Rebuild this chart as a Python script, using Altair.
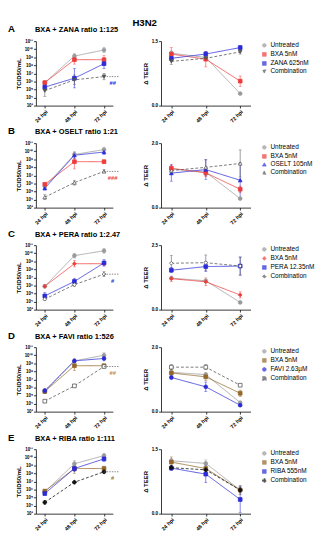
import json
import altair as alt
import pandas as pd

FONT = "Liberation Sans"

TIMES = ["24 hpi", "48 hpi", "72 hpi"]
LETTERS = ["A", "B", "C", "D", "E"]
PANEL_TITLES = [
    "BXA + ZANA ratio 1:125",
    "BXA + OSELT ratio 1:21",
    "BXA + PERA ratio 1:2.47",
    "BXA + FAVI ratio 1:526",
    "BXA + RIBA ratio 1:111",
]
DRUGS = ["ZANA 625nM", "OSELT 105nM", "PERA 12.35nM", "FAVI 2.63µM", "RIBA 555nM"]
SIG_MARKS = ["##", "###", "#", "##", "#"]
SIG_COLORS = ["#2a2ad8", "#ee3b3b", "#2a2ad8", "#c8873a", "#a0702a"]
TEER_MAX = [1.5, 2.0, 2.5, 2.0, 1.5]
TITER_TICK_EXP = [3, 4, 5, 6, 7, 8, 9, 10, 11]
TITER_TICK_LABELS = ["10³", "10⁴", "10⁵", "10⁶", "10⁷", "10⁸", "10⁹", "10¹⁰", "10¹¹"]
SUPER_TITLE = "H3N2"

# series order: Untreated, BXA 5nM, drug, Combination
# log10 TCID50/mL (mean) and SD in log units
A_titer = [[5.85, 9.15, 9.9], [5.85, 8.7, 8.7], [5.3, 6.4, 8.2], [4.85, 6.2, 6.6]]
A_titer_sd = [[0.2, 0.3, 0.35], [0.15, 0.55, 0.5], [0.3, 1.2, 0.6], [0.7, 0.6, 0.4]]
B_titer = [[5.6, 9.6, 10.2], [5.9, 8.7, 8.7], [5.4, 9.5, 9.9], [4.3, 6.1, 7.5]]
B_titer_sd = [[0.2, 0.3, 0.3], [0.1, 0.9, 0.2], [0.2, 0.4, 0.3], [0.3, 0.3, 0.2]]
C_titer = [[5.9, 9.7, 10.3], [5.9, 8.7, 8.7], [4.7, 6.5, 8.8], [4.3, 6.1, 7.4]]
C_titer_sd = [[0.2, 0.3, 0.3], [0.2, 0.4, 0.2], [0.4, 0.4, 0.4], [0.15, 0.2, 0.3]]
D_titer = [[5.5, 9.3, 10.0], [5.5, 8.7, 8.7], [5.6, 9.3, 9.6], [4.3, 6.2, 8.6]]
D_titer_sd = [[0.2, 0.3, 0.3], [0.2, 0.6, 0.2], [0.3, 0.2, 0.3], [0.1, 0.1, 0.1]]
E_titer = [[5.7, 9.2, 10.2], [5.8, 8.6, 8.6], [5.5, 8.6, 9.8], [4.4, 6.9, 8.2]]
E_titer_sd = [[0.2, 0.4, 0.3], [0.2, 0.6, 0.3], [0.2, 0.4, 0.3], [0.2, 0.1, 0.2]]

# delta TEER (mean) and SD
A_teer = [[1.22, 1.12, 0.28], [1.2, 1.08, 0.57], [1.1, 1.2, 1.35], [1.03, 1.1, 1.25]]
A_teer_sd = [[0.05, 0.05, 0.02], [0.15, 0.18, 0.12], [0.05, 0.06, 0.04], [0.07, 0.05, 0.05]]
B_teer = [[1.2, 1.1, 0.28], [1.22, 1.08, 0.57], [1.07, 1.18, 0.85], [1.15, 1.25, 1.37]]
B_teer_sd = [[0.05, 0.05, 0.03], [0.12, 0.12, 0.1], [0.25, 0.3, 0.55], [0.1, 0.25, 0.42]]
C_teer = [[1.22, 1.12, 0.28], [1.2, 1.08, 0.57], [1.53, 1.67, 1.69], [1.8, 1.82, 1.69]]
C_teer_sd = [[0.05, 0.05, 0.03], [0.1, 0.15, 0.12], [0.1, 0.2, 0.35], [0.3, 0.3, 0.35]]
D_teer = [[1.22, 1.15, 0.28], [1.2, 1.08, 0.57], [1.06, 0.77, 0.2], [1.38, 1.38, 0.82]]
D_teer_sd = [[0.05, 0.05, 0.03], [0.1, 0.12, 0.1], [0.05, 0.15, 0.04], [0.08, 0.08, 0.03]]
E_teer = [[1.23, 1.17, 0.55], [1.2, 1.05, 0.55], [1.06, 0.92, 0.33], [1.07, 1.02, 0.55]]
E_teer_sd = [[0.05, 0.08, 0.1], [0.12, 0.12, 0.1], [0.05, 0.2, 0.3], [0.05, 0.05, 0.05]]

TITERS = [A_titer, B_titer, C_titer, D_titer, E_titer]
TITER_SDS = [A_titer_sd, B_titer_sd, C_titer_sd, D_titer_sd, E_titer_sd]
TEERS = [A_teer, B_teer, C_teer, D_teer, E_teer]
TEER_SDS = [A_teer_sd, B_teer_sd, C_teer_sd, D_teer_sd, E_teer_sd]

# styles
RED = "#ee3b3b"
BROWN = "#93682a"
BLUE = "#2a2ad8"
GRAY = "#9a9a9a"
PANEL_COLORS = [
    [GRAY, RED, BLUE, "#555555"],
    [GRAY, RED, BLUE, "#555555"],
    [GRAY, RED, BLUE, "#555555"],
    [GRAY, BROWN, BLUE, "#555555"],
    [GRAY, BROWN, BLUE, "#111111"],
]
PANEL_SHAPES = [
    ["circle", "square", "square", "triangle-down"],
    ["circle", "square", "triangle-up", "triangle-up"],
    ["circle", "diamond", "square", "diamond"],
    ["circle", "square", "circle", "square"],
    ["circle", "square", "square", "cross"],
]
PANEL_FILLS = [
    [GRAY, RED, BLUE, "#555555"],
    [GRAY, RED, BLUE, "white"],
    [GRAY, RED, BLUE, "white"],
    [GRAY, BROWN, BLUE, "white"],
    [GRAY, BROWN, BLUE, "#111111"],
]
DASHES = [[1, 0], [1, 0], [1, 0], [3, 2]]

W1, W2, H = 80, 93, 67
LAB_LABELS = dict(labelFont=FONT, labelFontWeight="bold", labelColor="black")


def make_df(vals, sds, labels, log=False):
    rows = []
    for s, lab in enumerate(labels):
        for t, tm in enumerate(TIMES):
            v, e = vals[s][t], sds[s][t]
            if log:
                rows.append(dict(time=tm, series=lab, order=s, y=10 ** v,
                                 lo=10 ** (v - e), hi=10 ** (v + e)))
            else:
                rows.append(dict(time=tm, series=lab, order=s, y=v,
                                 lo=max(v - e, 0.0), hi=v + e))
    return pd.DataFrame(rows)


def panel(df, labels, i, yscale, yaxis, legend, extra_layers):
    xenc = alt.X("time:N", scale=alt.Scale(type="point", domain=TIMES, padding=0.3),
                 axis=alt.Axis(title=None, labelAngle=-45, labelFontSize=5.5,
                               labelPadding=1, **LAB_LABELS))
    cscale = alt.Scale(domain=labels, range=PANEL_COLORS[i])
    if legend is None:
        col = alt.Color("series:N", scale=cscale, legend=None)
    else:
        col = alt.Color("series:N", scale=cscale)
    base = alt.Chart(df)
    err = base.mark_rule(strokeWidth=0.6).encode(
        x=xenc, y=alt.Y("lo:Q", scale=yscale, axis=yaxis), y2="hi:Q", color=col)
    cap_lo = base.mark_tick(size=3, thickness=0.6).encode(x=xenc, y="lo:Q", color=col)
    cap_hi = base.mark_tick(size=3, thickness=0.6).encode(x=xenc, y="hi:Q", color=col)
    line = base.mark_line(strokeWidth=0.8).encode(
        x=xenc, y="y:Q", color=col,
        strokeDash=alt.StrokeDash("series:N", scale=alt.Scale(domain=labels, range=DASHES),
                                  legend=None),
        order="order:Q")
    pts = base.mark_point(filled=False, opacity=1, size=15, strokeWidth=0.8).encode(
        x=xenc, y="y:Q",
        color=alt.Color("series:N", scale=cscale, legend=legend),
        shape=alt.Shape("series:N", scale=alt.Scale(domain=labels, range=PANEL_SHAPES[i]),
                        legend=legend),
        fill=alt.Fill("series:N", scale=alt.Scale(domain=labels, range=PANEL_FILLS[i]),
                      legend=legend))
    return alt.layer(err, cap_lo, cap_hi, line, pts, *extra_layers)


cells = []
for i in range(5):
    labels = ["Untreated", "BXA 5nM", DRUGS[i], "Combination"]
    dft = make_df(TITERS[i], TITER_SDS[i], labels, log=True)
    dfe = make_df(TEERS[i], TEER_SDS[i], labels, log=False)

    yscale_t = alt.Scale(type="log", domain=[10 ** TITER_TICK_EXP[0], 10 ** TITER_TICK_EXP[-1]],
                         nice=False)
    yaxis_t = alt.Axis(title="TCID50/mL", values=[10 ** k for k in TITER_TICK_EXP],
                       labelExpr=json.dumps(TITER_TICK_LABELS, ensure_ascii=False)
                       + "[round(log(datum.value)/LN10)-" + str(TITER_TICK_EXP[0]) + "]",
                       labelFontSize=4.6, labelPadding=1, titleFontSize=6.2,
                       titlePadding=3, titleFont=FONT, titleFontWeight="bold", **LAB_LABELS)

    # significance marker
    comb_last = TITERS[i][3][2]
    sig_df = pd.DataFrame({"time": [TIMES[2]], "y": [10 ** comb_last], "t": [SIG_MARKS[i]]})
    sig_rule = alt.Chart(sig_df).mark_rule(strokeDash=[1.5, 1.2], strokeWidth=0.7,
                                           color="#555555").encode(
        x=alt.X("time:N"), x2=alt.value(W1 + 7), y="y:Q")
    sig_text = alt.Chart(sig_df).mark_text(font=FONT, fontSize=6, fontWeight="bold",
                                           color=SIG_COLORS[i], dx=9, dy=7).encode(
        x=alt.X("time:N"), y="y:Q", text="t:N")
    letter = alt.Chart(pd.DataFrame({"t": [LETTERS[i]]})).mark_text(
        font=FONT, fontSize=10, fontWeight="bold", align="left", baseline="middle").encode(
        x=alt.value(-29), y=alt.value(-12), text="t:N")
    ttl = alt.Chart(pd.DataFrame({"t": [PANEL_TITLES[i]]})).mark_text(
        font=FONT, fontSize=7.7, fontWeight="bold", align="left", baseline="middle").encode(
        x=alt.value(-1), y=alt.value(-11), text="t:N")
    extras = [sig_rule, sig_text, letter, ttl]
    if i == 0:
        sup = alt.Chart(pd.DataFrame({"t": [SUPER_TITLE]})).mark_text(
            font=FONT, fontSize=10, fontWeight="bold", align="center", baseline="middle").encode(
            x=alt.value(113), y=alt.value(-19), text="t:N")
        extras.append(sup)

    left = panel(dft, labels, i, yscale_t, yaxis_t, None, extras).properties(width=W1, height=H)

    yscale_e = alt.Scale(domain=[0, TEER_MAX[i]], nice=False)
    ticks_e = [k * 0.5 for k in range(int(TEER_MAX[i] / 0.5) + 1)]
    yaxis_e = alt.Axis(title="Δ TEER", values=ticks_e, format=".1f",
                       labelFontSize=4.8, labelPadding=1, titleFontSize=6.2, titlePadding=3,
                       titleFont=FONT, titleFontWeight="bold", **LAB_LABELS)
    legend = alt.Legend(title=None, orient="none", legendX=104, legendY=1,
                        labelFont=FONT, labelFontSize=6.7, labelColor="black",
                        symbolSize=15, symbolStrokeWidth=0.8, rowPadding=0.4,
                        labelOffset=3, padding=0)
    right = panel(dfe, labels, i, yscale_e, yaxis_e, legend, []).properties(width=W2, height=H)
    cells.extend([left, right])

chart = alt.concat(*cells, columns=2, spacing={"row": 39, "column": 50},
                   bounds="flush").resolve_scale(
    x="independent", y="independent", color="independent", shape="independent",
    fill="independent", strokeDash="independent").properties(padding=0).configure(
    font=FONT).configure_view(stroke=None).configure_axis(
    domainColor="black", domainWidth=0.8, tickColor="black", tickWidth=0.8, tickSize=2.5,
    grid=False)

chart.save("out.html", embed_options={"renderer": "svg", "actions": False})
